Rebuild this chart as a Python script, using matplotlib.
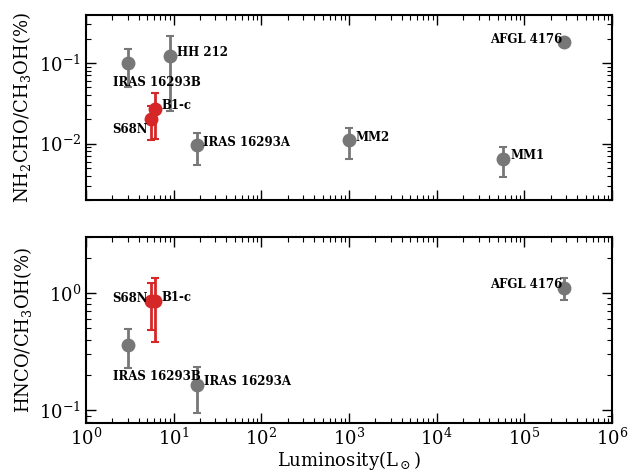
import matplotlib
matplotlib.use("Agg")
import matplotlib.pyplot as plt
import numpy as np

plt.rcParams['font.family'] = ['DejaVu Serif']
plt.rcParams['mathtext.fontset'] = 'dejavuserif'

# ---- data ----
top_names = ["IRAS 16293B", "HH 212", "B1-c", "S68N", "IRAS 16293A", "MM2", "MM1", "AFGL 4176"]
top_lum = [3.0, 9.1, 6.1, 5.5, 18.3, 1000.0, 5.7e4, 2.8e5]
top_val = [0.10, 0.12, 0.027, 0.020, 0.0095, 0.011, 0.0065, 0.18]
top_err = [0.05, 0.095, 0.0155, 0.009, 0.004, 0.0045, 0.0026, 0.0]
top_red = [False, False, True, True, False, False, False, False]

bot_names = ["S68N", "B1-c", "IRAS 16293B", "IRAS 16293A", "AFGL 4176"]
bot_lum = [5.5, 6.1, 3.0, 18.3, 2.8e5]
bot_val = [0.85, 0.86, 0.36, 0.165, 1.1]
bot_err = [0.37, 0.48, 0.13, 0.07, 0.23]
bot_red = [True, True, False, False, False]

# label offsets in pixels (dx, dy up-positive), alignment
top_off = {"IRAS 16293B": (-15, -20, 'left'), "HH 212": (7, 4, 'left'),
           "B1-c": (7, 3, 'left'), "S68N": (-3, -10, 'right'),
           "IRAS 16293A": (6, 3, 'left'), "MM2": (6, 3, 'left'),
           "MM1": (8, 3, 'left'), "AFGL 4176": (-1, 3, 'right')}
bot_off = {"S68N": (-3, 3, 'right'), "B1-c": (7, 3, 'left'),
           "IRAS 16293B": (-15, -32, 'left'), "IRAS 16293A": (7, 3, 'left'),
           "AFGL 4176": (-1, 4, 'right')}

GRAY = '#777777'
RED = '#d62728'

fig = plt.figure(figsize=(6.29, 4.73), dpi=100)
ax1 = fig.add_axes([0.1367, 0.577, 0.8363, 0.391])
ax2 = fig.add_axes([0.1367, 0.106, 0.8363, 0.393])


def draw(ax, names, lum, val, err, red, offs):
    # gray first, red on top
    order = [i for i in range(len(names)) if not red[i]] + [i for i in range(len(names)) if red[i]]
    for i in order:
        c = RED if red[i] else GRAY
        ax.errorbar(lum[i], val[i], yerr=err[i] if err[i] > 0 else None, fmt='o', color=c,
                    ecolor=c, elinewidth=2, capsize=3, capthick=1.5, markersize=9,
                    markeredgecolor=c, zorder=3 if red[i] else 2)
    for i, n in enumerate(names):
        dx, dy, ha = offs[n]
        ax.annotate(n, (lum[i], val[i]), xytext=(dx * 0.72, dy * 0.72),
                    textcoords='offset points', ha=ha, va='center',
                    fontsize=8.5, fontweight='bold', zorder=5)
    ax.set_xscale('log')
    ax.set_yscale('log')
    ax.set_xlim(1, 1e6)
    ax.tick_params(which='both', direction='in', top=True, right=True, labelsize=13)
    ax.tick_params(which='major', length=7, width=1)
    ax.tick_params(which='minor', length=3.5, width=0.8)
    for s in ax.spines.values():
        s.set_linewidth(1.5)


draw(ax1, top_names, top_lum, top_val, top_err, top_red, top_off)
draw(ax2, bot_names, bot_lum, bot_val, bot_err, bot_red, bot_off)

ax1.set_ylim(0.002, 0.39)
ax2.set_ylim(0.078, 3.0)
ax1.set_xticklabels([])
ax1.set_ylabel(r'NH$_2$CHO/CH$_3$OH(%)', fontsize=13)
ax2.set_ylabel(r'HNCO/CH$_3$OH(%)', fontsize=13)
ax2.set_xlabel(r'Luminosity(L$_\odot$)', fontsize=13, labelpad=0)

fig.savefig('out.png', dpi=100)
